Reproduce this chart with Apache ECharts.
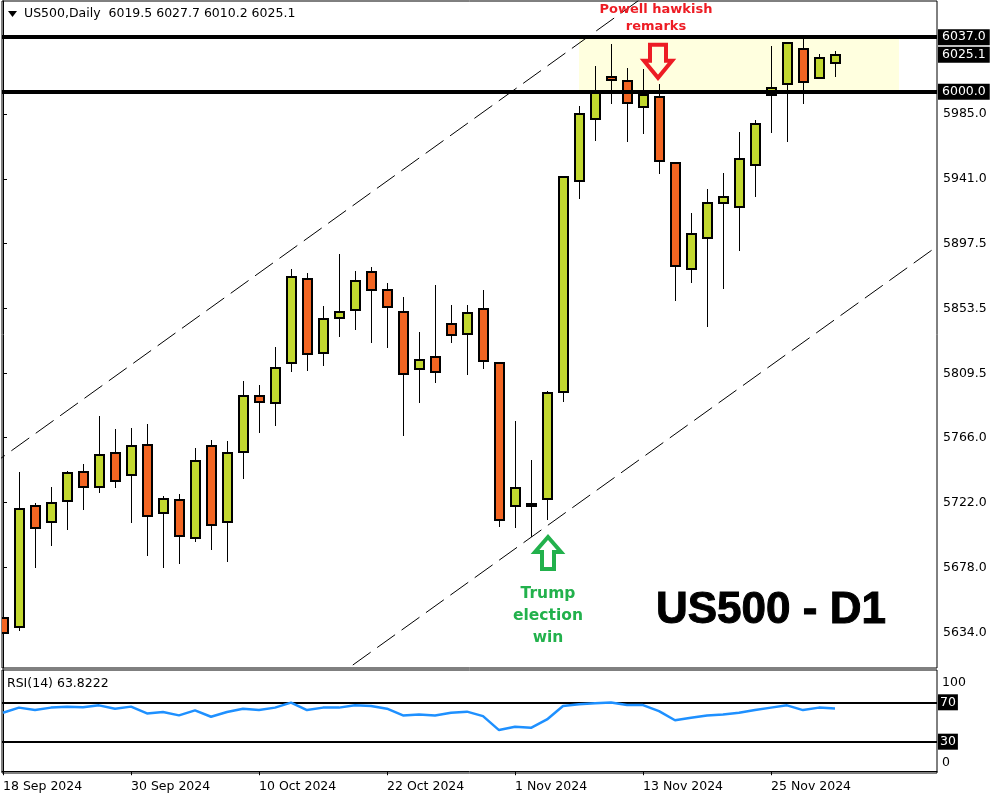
<!DOCTYPE html>
<html><head><meta charset="utf-8">
<script src="https://cdn.jsdelivr.net/npm/echarts@6/dist/echarts.min.js"></script>
<style>html,body{margin:0;padding:0;background:#fff}#c{width:1000px;height:800px}</style>
</head><body><div id="c"></div>
<script>
const dates = ['18 Sep 2024','19 Sep 2024','20 Sep 2024','23 Sep 2024','24 Sep 2024','25 Sep 2024','26 Sep 2024','27 Sep 2024','30 Sep 2024',
'1 Oct 2024','2 Oct 2024','3 Oct 2024','4 Oct 2024','7 Oct 2024','8 Oct 2024','9 Oct 2024','10 Oct 2024','11 Oct 2024','14 Oct 2024','15 Oct 2024','16 Oct 2024','17 Oct 2024','18 Oct 2024','21 Oct 2024','22 Oct 2024','23 Oct 2024','24 Oct 2024','25 Oct 2024','28 Oct 2024','29 Oct 2024','30 Oct 2024','31 Oct 2024',
'1 Nov 2024','4 Nov 2024','5 Nov 2024','6 Nov 2024','7 Nov 2024','8 Nov 2024','11 Nov 2024','12 Nov 2024','13 Nov 2024','14 Nov 2024','15 Nov 2024','18 Nov 2024','19 Nov 2024','20 Nov 2024','21 Nov 2024','22 Nov 2024','25 Nov 2024','26 Nov 2024','27 Nov 2024','28 Nov 2024','29 Nov 2024'];

const opens  = [5643.8,5637.7,5719.6,5708.8,5723.0,5742.7,5732.5,5755.5,5740.6,5760.9,5714.9,5723.7,5698.0,5760.3,5708.8,5756.2,5794.1,5789.4,5816.4,5873.3,5823.2,5846.9,5852.3,5878.0,5865.9,5851.0,5812.4,5820.5,5842.8,5836.1,5853.0,5816.4,5719.6,5719.6,5724.4,5796.8,5939.6,5981.6,6010.0,6007.3,5989.7,5996.5,5951.8,5880.1,5901.1,5924.8,5922.0,5950.5,5997.9,6005.3,6029.0,6009.4,6019.5];
const highs  = [5699.3,5742.7,5721.7,5732.5,5743.3,5748.1,5780.6,5771.8,5772.4,5775.2,5726.4,5727.8,5758.9,5764.3,5763.6,5804.3,5801.6,5827.3,5880.1,5877.4,5855.0,5890.2,5878.7,5881.4,5870.6,5861.1,5837.4,5869.2,5855.7,5855.7,5865.9,5817.0,5777.2,5750.8,5797.5,5943.0,5990.4,6017.5,6032.4,6016.1,6015.5,6005.3,5952.5,5918.0,5934.2,5945.1,5972.8,5980.9,6031.0,6033.7,6036.4,6025.6,6027.7];
const lows   = [5620.1,5635.0,5677.7,5692.6,5703.4,5716.9,5728.4,5731.8,5708.1,5685.8,5677.7,5680.4,5695.3,5689.9,5681.7,5737.9,5769.1,5773.8,5810.4,5811.0,5814.4,5834.0,5838.8,5830.0,5826.6,5767.0,5789.4,5802.9,5830.0,5808.3,5812.4,5705.4,5704.8,5698.7,5710.2,5790.0,5927.5,5966.7,5991.8,5966.0,5971.5,5944.4,5858.4,5870.6,5840.8,5866.5,5892.3,5928.8,5972.1,5966.0,5991.8,6009.0,6010.2];
const closes = [5633.7,5717.6,5704.8,5721.7,5742.0,5732.5,5754.2,5736.6,5760.3,5712.9,5724.4,5699.3,5750.1,5706.8,5755.5,5794.1,5790.0,5813.1,5874.7,5822.5,5846.2,5851.0,5872.0,5865.9,5854.4,5809.0,5818.5,5810.4,5835.4,5850.3,5817.8,5710.2,5731.8,5721.0,5796.1,5942.4,5985.0,5999.2,6008.0,5992.4,5997.9,5953.2,5882.1,5903.8,5924.8,5928.8,5954.5,5978.2,6002.6,6033.1,6006.7,6022.9,6025.1];
const rsi14  = [59.4,64.6,62.1,64.6,65.4,64.9,66.9,63.5,65.6,58.7,60.1,56.7,61.8,55.3,60.1,63.5,62.1,64.6,69.7,62.1,64.6,64.6,66.9,66.2,63.5,56.7,57.7,56.7,59.4,60.5,56.0,41.8,45.1,44.1,52.6,66.2,67.9,69.0,69.7,67.2,67.2,61.1,51.8,54.3,56.7,57.7,59.4,62.1,64.6,66.9,62.1,64.6,63.8222];

const priceTicks = [5634.0,5678.0,5722.0,5766.0,5809.5,5853.5,5897.5,5941.0,5985.0];
const levelLines = [6037.0, 6000.0];
const zoneBars = [36, 56];           // bar indexes spanned by the shaded zone
const zonePrices = [6037.0, 6000.0];
const rsiLevels = [70, 30];
const rsiTicks = [0, 100];
const dateTickIdx = [0, 8, 16, 24, 32, 40, 48];
const channelUpper = [[-1, 5745.2], [59, 6211.7]];
const channelLower = [[-1, 5434.6], [59, 5900.2]];

const GREEN = '#c2d82f', ORANGE = '#f26522';
const FONT = 'DejaVu Sans';
const FS = 12.5;

const candleData = dates.map((d, i) => [i, opens[i], closes[i], lows[i], highs[i]]);
const rsiData = rsi14.map((v, i) => [i, v]);

const chart = echarts.init(document.getElementById('c'), null, {renderer: 'canvas'});

const boxLabel = (txt) => ({
  show: true, position: 'end', distance: 1, formatter: txt,
  color: '#fff', backgroundColor: '#000', padding: [2, 4, 1, 4],
  fontFamily: FONT, fontSize: FS
});

const option = {
  animation: false,
  backgroundColor: '#fff',
  textStyle: {fontFamily: FONT},
  grid: [
    {left: 2, top: 1, width: 935, height: 667, show: true, borderColor: '#000', borderWidth: 1, backgroundColor: '#fff'},
    {left: 2, top: 670, width: 935, height: 103, show: true, borderColor: '#000', borderWidth: 1, backgroundColor: '#fff'}
  ],
  xAxis: [
    {type: 'value', gridIndex: 0, min: -0.0625, max: 58.375,
     axisLine: {show: false}, axisTick: {show: false}, axisLabel: {show: false}, splitLine: {show: false}},
    {type: 'value', gridIndex: 1, min: -0.0625, max: 58.375, position: 'bottom',
     axisLine: {show: true, lineStyle: {color: '#000', width: 1}},
     axisTick: {show: true, customValues: dateTickIdx, length: 4, lineStyle: {color: '#000'}},
     axisLabel: {show: true, customValues: dateTickIdx, formatter: v => dates[Math.round(v)] || '',
                 align: 'left', margin: 7, color: '#000', fontFamily: FONT, fontSize: FS},
     splitLine: {show: false}}
  ],
  yAxis: [
    {type: 'value', gridIndex: 0, position: 'right', min: 5610.0, max: 6061.5, scale: true,
     axisLine: {show: true, lineStyle: {color: '#000', width: 1}},
     axisTick: {show: true, customValues: priceTicks, length: 4, lineStyle: {color: '#000'}},
     axisLabel: {show: true, customValues: priceTicks, formatter: v => v.toFixed(1), margin: 6,
                 color: '#000', fontFamily: FONT, fontSize: FS},
     splitLine: {show: false}},
    {type: 'value', gridIndex: 1, position: 'right', min: -1.8, max: 102.8,
     axisLine: {show: true, lineStyle: {color: '#000', width: 1}},
     axisTick: {show: false},
     axisLabel: {show: true, customValues: rsiTicks, margin: 5,
                 formatter: v => v >= 50 ? '{a|' + v + '}' : '{b|' + v + '}',
                 rich: {a: {padding: [19, 0, 0, 0], color: '#000', fontFamily: FONT, fontSize: FS},
                        b: {padding: [0, 0, 17, 0], color: '#000', fontFamily: FONT, fontSize: FS}}},
     splitLine: {show: false}}
  ],
  series: [
    {
      name: 'channelLower', type: 'line', xAxisIndex: 0, yAxisIndex: 0, data: channelLower,
      showSymbol: false, symbol: 'none', clip: true, z: 1,
      lineStyle: {color: '#000', width: 1, type: [22, 8]},
      markArea: {
        silent: true, z: 0,
        itemStyle: {color: '#ffffdf'},
        data: [[{xAxis: zoneBars[0], yAxis: zonePrices[0]}, {xAxis: zoneBars[1], yAxis: zonePrices[1]}]]
      }
    },
    {
      name: 'channelUpper', type: 'line', xAxisIndex: 0, yAxisIndex: 0, data: channelUpper,
      showSymbol: false, symbol: 'none', clip: true, z: 1,
      lineStyle: {color: '#000', width: 1, type: [22, 8]}
    },
    {
      name: 'candles', type: 'custom', xAxisIndex: 0, yAxisIndex: 0, data: candleData, clip: true, z: 3,
      encode: {x: 0, y: [1, 2, 3, 4]},
      renderItem: function (params, api) {
        const x = api.value(0), o = api.value(1), c = api.value(2), l = api.value(3), h = api.value(4);
        const pO = api.coord([x, o]), pC = api.coord([x, c]), pL = api.coord([x, l]), pH = api.coord([x, h]);
        const cx = Math.round(pO[0]);
        let top = Math.round(Math.min(pO[1], pC[1])), bot = Math.round(Math.max(pO[1], pC[1]));
        if (bot - top < 1) bot = top + 1;
        const up = c >= o;
        return {type: 'group', children: [
          {type: 'line', shape: {x1: cx + 0.5, y1: Math.round(pH[1]), x2: cx + 0.5, y2: Math.round(pL[1])},
           style: {stroke: '#000', lineWidth: 1}},
          {type: 'rect', shape: {x: cx - 4, y: top, width: 9, height: bot - top},
           style: {fill: up ? GREEN : ORANGE, stroke: '#000', lineWidth: 2}}
        ]};
      }
    },
    {
      name: 'levels', type: 'line', xAxisIndex: 0, yAxisIndex: 0, data: [], z: 10,
      markLine: {
        silent: true, symbol: 'none', z: 10,
        data: [
          {yAxis: levelLines[0], lineStyle: {color: '#000', width: 4, type: 'solid'}, label: boxLabel(levelLines[0].toFixed(1))},
          {yAxis: closes[closes.length - 1], lineStyle: {color: 'rgba(0,0,0,0)', width: 0}, label: boxLabel(closes[closes.length - 1].toFixed(1))},
          {yAxis: levelLines[1], lineStyle: {color: '#000', width: 4, type: 'solid'}, label: boxLabel(levelLines[1].toFixed(1))}
        ]
      }
    },
    {
      name: 'RSI', type: 'line', xAxisIndex: 1, yAxisIndex: 1, data: rsiData, z: 3,
      showSymbol: false, symbol: 'none', clip: true,
      lineStyle: {color: '#1e90ff', width: 2.5},
      markLine: {
        silent: true, symbol: 'none', z: 2,
        lineStyle: {color: '#000', width: 2, type: 'solid'},
        data: rsiLevels.map(v => ({yAxis: v, label: Object.assign(boxLabel(String(v)), {padding: [2, 2, 1, 2]})}))
      }
    }
  ]
};
chart.setOption(option);

// annotations anchored to data coordinates
const last = dates.length - 1;
const toPx = (x, y) => chart.convertToPixel({gridIndex: 0}, [x, y]);
const annPowell = {bar: 41, price: 6009.5};
const annTrump = {bar: 34, price: 5698.7};
const p = toPx(annPowell.bar, annPowell.price);
const t = toPx(annTrump.bar, annTrump.price);
const px = p[0] - 1, py = p[1];
const tx = t[0] + 1, ty = t[1];
const RED = '#ed1c24', GRN = '#22b14c';

chart.setOption({
  graphic: [
    {type: 'polygon', z: 100, shape: {points: [[8, 11], [17, 11], [12.5, 17]]}, style: {fill: '#000'}},
    {type: 'text', z: 100, x: 24, y: 14, style: {
      text: 'US500,Daily  ' + [opens[last], highs[last], lows[last], closes[last]].map(v => v.toFixed(1)).join(' '),
      fill: '#000', font: FS + 'px "DejaVu Sans"', textVerticalAlign: 'middle'}},
    {type: 'text', z: 100, x: 7, y: 684, style: {
      text: 'RSI(14) ' + rsi14[last].toFixed(4), fill: '#000', font: FS + 'px "DejaVu Sans"', textVerticalAlign: 'middle'}},
    // Powell arrow (down)
    {type: 'polygon', z: 100, shape: {points: [
      [px - 8, py - 33], [px + 8, py - 33], [px + 8, py - 17], [px + 14, py - 17], [px, py],
      [px - 14, py - 17], [px - 8, py - 17]]},
     style: {fill: 'none', stroke: RED, lineWidth: 4, lineJoin: 'miter'}},
    {type: 'text', z: 100, x: px - 2, y: py - 68, style: {text: 'Powell hawkish', fill: RED,
      font: 'bold 13px "DejaVu Sans"', textAlign: 'center', textVerticalAlign: 'middle'}},
    {type: 'text', z: 100, x: px - 2, y: py - 51, style: {text: 'remarks', fill: RED,
      font: 'bold 13px "DejaVu Sans"', textAlign: 'center', textVerticalAlign: 'middle'}},
    // Trump arrow (up)
    {type: 'polygon', z: 100, shape: {points: [
      [tx, ty], [tx + 13, ty + 15], [tx + 6, ty + 15], [tx + 6, ty + 32], [tx - 6, ty + 32],
      [tx - 6, ty + 15], [tx - 13, ty + 15]]},
     style: {fill: 'none', stroke: GRN, lineWidth: 4, lineJoin: 'miter'}},
    {type: 'text', z: 100, x: tx, y: ty + 57, style: {text: 'Trump', fill: GRN,
      font: 'bold 15.5px "DejaVu Sans"', textAlign: 'center', textVerticalAlign: 'middle'}},
    {type: 'text', z: 100, x: tx, y: ty + 79, style: {text: 'election', fill: GRN,
      font: 'bold 15.5px "DejaVu Sans"', textAlign: 'center', textVerticalAlign: 'middle'}},
    {type: 'text', z: 100, x: tx, y: ty + 101, style: {text: 'win', fill: GRN,
      font: 'bold 15.5px "DejaVu Sans"', textAlign: 'center', textVerticalAlign: 'middle'}},
    {type: 'text', z: 100, x: 656, y: 611, style: {text: 'US500 - D1', fill: '#000',
      stroke: '#000', lineWidth: 1,
      font: 'bold 44px "Liberation Sans"', textVerticalAlign: 'middle'}}
  ]
});
</script>
</body></html>
